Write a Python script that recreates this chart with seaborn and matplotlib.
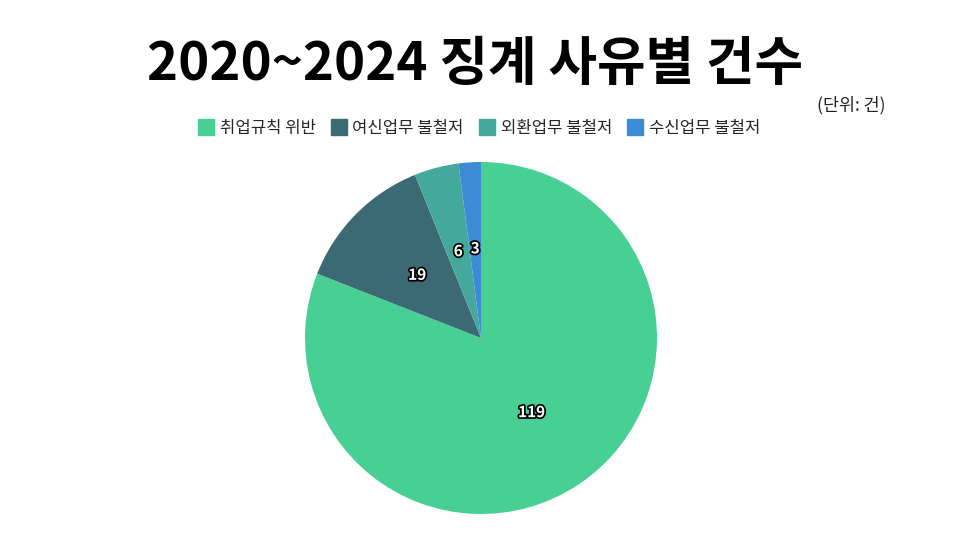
import matplotlib
matplotlib.use("Agg")
import matplotlib.pyplot as plt
import matplotlib.patheffects as pe
from matplotlib.lines import Line2D
import numpy as np
import seaborn as sns

categories = ["취업규칙 위반", "여신업무 불철저", "외환업무 불철저", "수신업무 불철저"]
counts = [119, 19, 6, 3]
colors = ["#48d094", "#3c6a74", "#45a89c", "#3d8bd5"]

sns.set_theme(style="white")
plt.rcParams["font.family"] = ["Noto Sans CJK KR", "DejaVu Sans"]

fig = plt.figure(figsize=(9.6, 5.39), dpi=100)
ax = fig.add_axes([(481 - 176) / 960, 1 - (338 + 176) / 539, 352 / 960, 352 / 539])

wedges, _ = ax.pie(counts, colors=colors, startangle=90, counterclock=False,
                   wedgeprops=dict(linewidth=0))
ax.set_xlim(-1, 1)
ax.set_ylim(-1, 1)
ax.set_aspect("equal")

# value labels inside the slices
for w, v in zip(wedges, counts):
    mid = np.deg2rad((w.theta1 + w.theta2) / 2)
    r = 0.51
    t = ax.text(r * np.cos(mid), r * np.sin(mid), str(v), ha="center", va="center",
                fontsize=11, color="white", fontweight="bold")
    t.set_path_effects([pe.withStroke(linewidth=2.5, foreground="black")])

fig.text(0.495, 0.88, "2020~2024 징계 사유별 건수", ha="center", va="center",
         fontsize=38, fontweight="black", color="black")
fig.text(0.922, 0.805, "(단위: 건)", ha="right", va="center", fontsize=12.5, color="#222222")

handles = [Line2D([0], [0], marker="s", color="none", markerfacecolor=c,
                  markeredgecolor=c, markersize=12) for c in colors]
fig.legend(handles, categories, loc="center", bbox_to_anchor=(0.499, 0.762), ncol=4,
           frameon=False, fontsize=12, handletextpad=0.3, columnspacing=0.9,
           handlelength=1.0)

fig.savefig("out.png", dpi=100)
